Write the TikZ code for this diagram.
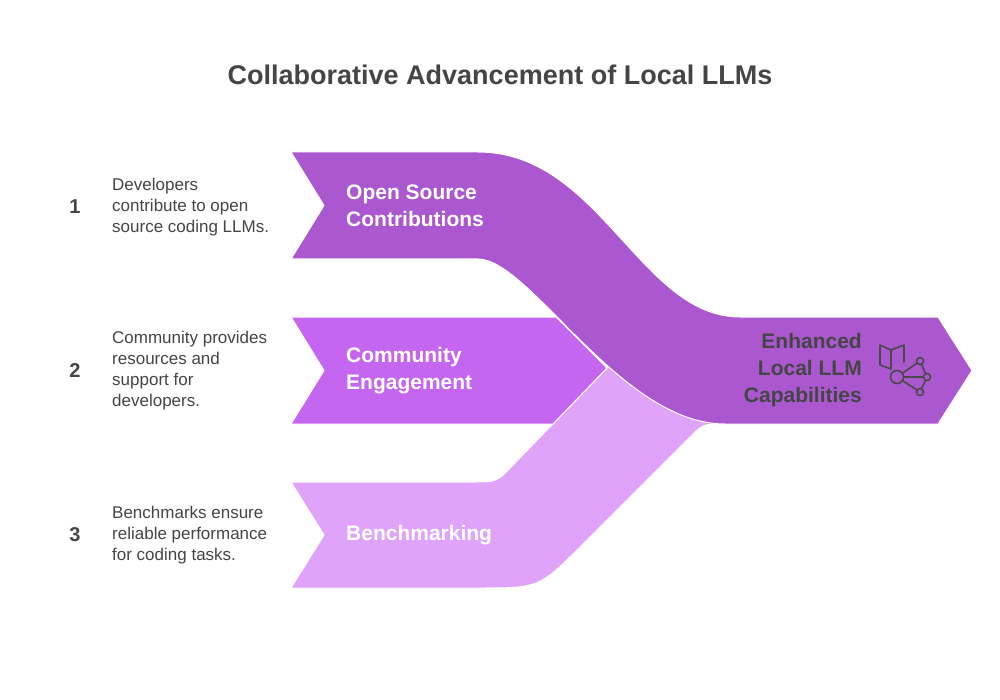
\documentclass[tikz,border=0pt]{standalone}
\usepackage{fontspec}
\setmainfont{Liberation Sans}
\usepackage{tikz}
\definecolor{bandone}{HTML}{AA57D0}
\definecolor{bandtwo}{HTML}{C466F0}
\definecolor{bandthree}{HTML}{E0A3FA}
\definecolor{inkgray}{HTML}{454545}
\definecolor{icongray}{HTML}{4A4A4A}

\begin{document}
\begin{tikzpicture}[x=1pt, y=-1pt,
    band/.style={draw=white, line width=1pt, line join=round},
    bandlabel/.style={white, font=\fontsize{21}{27}\selectfont\bfseries, align=left, anchor=west, inner sep=0pt},
    stepnum/.style={inkgray, font=\fontsize{20}{24}\selectfont\bfseries, inner sep=0pt},
    stepdesc/.style={inkgray, font=\fontsize{17}{21}\selectfont, align=left, anchor=west, inner sep=0pt},
    iconline/.style={draw=icongray, line width=1.6pt, line join=round, line cap=round},
    hub/.style={circle, draw=icongray, line width=1.6pt, minimum size=13pt, inner sep=0pt},
    leaf/.style={circle, draw=icongray, line width=1.6pt, minimum size=7pt, inner sep=0pt}]

    \fill[white] (0,0) rectangle (1000,700);
    \useasboundingbox (0,0) rectangle (1000,700);

    \node[inkgray, font=\fontsize{27}{32}\selectfont\bfseries] (title) at (500,75) {Collaborative Advancement of Local LLMs};

    % bands, back to front
    \filldraw[band, fill=bandthree] (291,482) -- (472,482) .. controls (497,482) .. (514,464)
        -- (607,368) -- (650,330) -- (760,380) -- (760,424) -- (723,424) .. controls (703,424) .. (689,438)
        -- (581,546) .. controls (539,588) .. (479,588) -- (291,588) -- (324,535) -- cycle;
    \filldraw[band, fill=bandtwo] (291,317) -- (556,317) -- (607,368) -- (553,424) -- (291,424) -- (324,370.5) -- cycle;
    \filldraw[band, fill=bandone] (291,152) -- (478,152) .. controls (600,152) and (640,317) .. (740,317)
        -- (938,317) -- (972,370.5) -- (938,424)
        -- (725,424) .. controls (620,424) and (530,259) .. (478,259)
        -- (291,259) -- (324,205.5) -- cycle;

    \node[bandlabel] (open) at (346,206) {Open Source\\Contributions};
    \node[bandlabel] (community) at (346,371) {Community\\Engagement};
    \node[bandlabel] (bench) at (346,535) {Benchmarking};
    \node[bandlabel, inkgray, align=right, anchor=east] (result) at (862,370) {Enhanced\\Local LLM\\Capabilities};

    \node[stepnum] (num1) at (75,207) {1};
    \node[stepnum] (num2) at (75,371) {2};
    \node[stepnum] (num3) at (75,535) {3};
    \node[stepdesc] (desc1) at (112,207) {Developers\\contribute to open\\source coding LLMs.};
    \node[stepdesc] (desc2) at (112,371) {Community provides\\resources and\\support for\\developers.};
    \node[stepdesc] (desc3) at (112,535) {Benchmarks ensure\\reliable performance\\for coding tasks.};

    % icon
    \draw[iconline] (880,345) -- (880,365) -- (891,369) -- (891,350) -- cycle;
    \draw[iconline] (891,350) -- (904,345) -- (904,362);
    \node[hub] (hub) at (897,377) {};
    \node[leaf] (leafa) at (920,361) {};
    \node[leaf] (leafb) at (927,377) {};
    \node[leaf] (leafc) at (920,392) {};
    \draw[iconline] (hub) -- (leafa);
    \draw[iconline] (hub) -- (leafb);
    \draw[iconline] (hub) -- (leafc);
    \draw[iconline] (leafa) -- (leafb);
    \draw[iconline] (leafb) -- (leafc);
\end{tikzpicture}
\end{document}
